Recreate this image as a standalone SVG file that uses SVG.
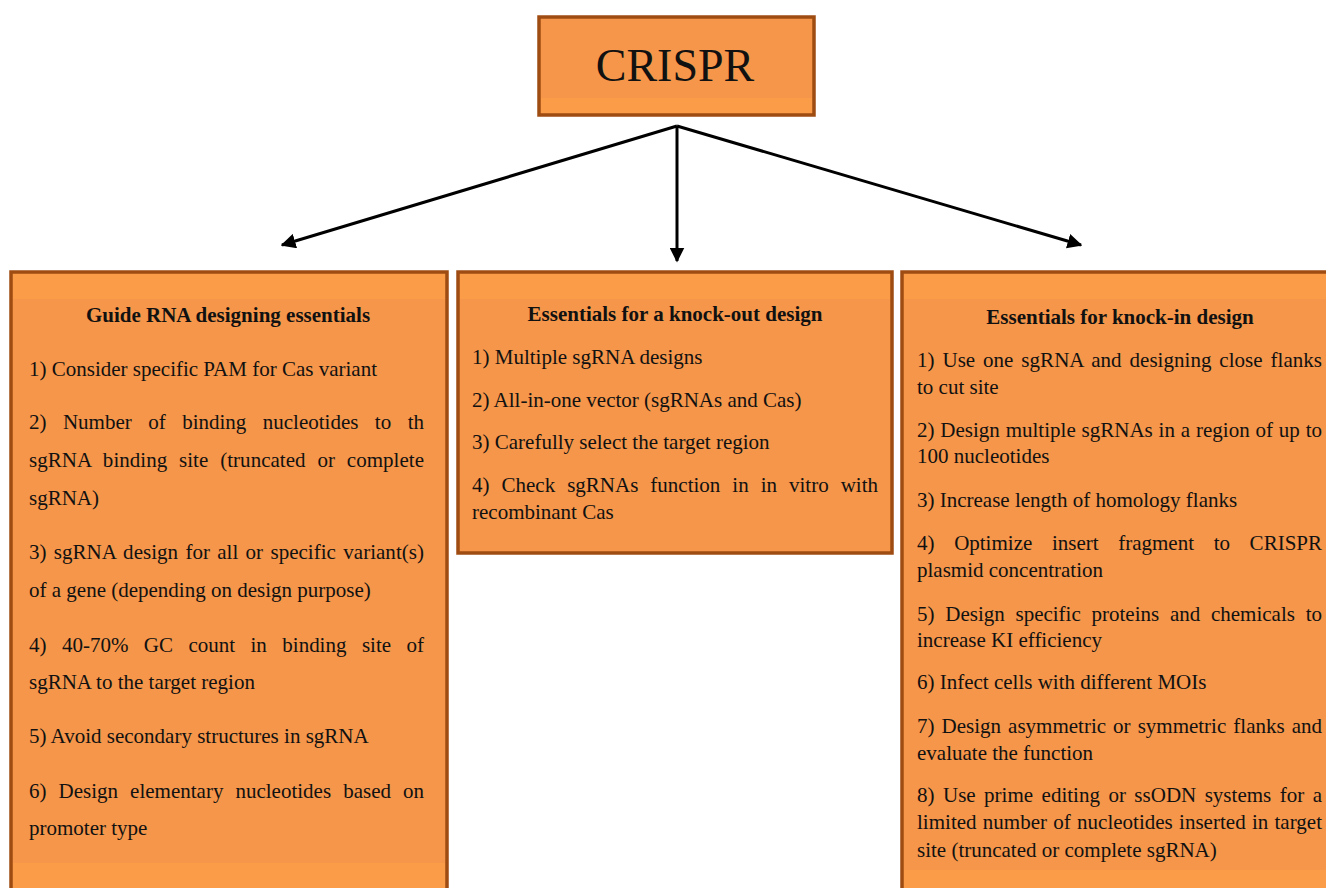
<svg xmlns="http://www.w3.org/2000/svg" width="1326" height="888" viewBox="0 0 1326 888">
<style>
.box{fill:#f5964a;stroke:#9e4c12;stroke-width:3.5}
.band{fill:#fb9c48}
.t{font-family:"Liberation Serif","Times New Roman",serif;font-size:21px;fill:#111}
.h{font-family:"Liberation Serif","Times New Roman",serif;font-size:21px;font-weight:bold;fill:#111}
.c{stroke:#000;stroke-width:3;fill:none}
</style>
<defs>
<marker id="ah" viewBox="0 0 10 10" refX="9" refY="5" markerWidth="5" markerHeight="5" orient="auto" markerUnits="strokeWidth">
<path d="M0,0 L10,5 L0,10 z" fill="#000"/>
</marker>
</defs>
<rect width="1326" height="888" fill="#fff"/>

<g id="connectors">
<line class="c" x1="677" y1="126" x2="282" y2="245" marker-end="url(#ah)"/>
<line class="c" x1="677" y1="126" x2="677" y2="261" stroke-width="2.5" marker-end="url(#ah)"/>
<line class="c" x1="677" y1="126" x2="1081" y2="245" marker-end="url(#ah)"/>
</g>

<g id="crispr">
<rect class="box" x="539" y="17" width="275" height="98"/>
<rect class="band" x="541" y="98" width="271" height="15"/>
<text x="675" y="81" text-anchor="middle" font-family="Liberation Serif, Times New Roman, serif" font-size="46" fill="#111">CRISPR</text>
</g>

<g id="guide-rna">
<rect class="box" x="11" y="272" width="436" height="640"/>
<rect class="band" x="13" y="274" width="432" height="25"/>
<rect class="band" x="13" y="863" width="432" height="25"/>
<text class="h" x="228" y="322" text-anchor="middle">Guide RNA designing essentials</text>
<text class="t" x="29" y="376">1) Consider specific PAM for Cas variant</text>
<text class="t" x="29" y="429" word-spacing="11.2" textLength="395" lengthAdjust="spacing">2) Number of binding nucleotides to th</text>
<text class="t" x="29" y="467" word-spacing="6.6" textLength="395" lengthAdjust="spacing">sgRNA binding site (truncated or complete</text>
<text class="t" x="29" y="505">sgRNA)</text>
<text class="t" x="29" y="559" word-spacing="2" textLength="395" lengthAdjust="spacing">3) sgRNA design for all or specific variant(s)</text>
<text class="t" x="29" y="597">of a gene (depending on design purpose)</text>
<text class="t" x="29" y="652" word-spacing="10.2" textLength="395" lengthAdjust="spacing">4) 40-70% GC count in binding site of</text>
<text class="t" x="29" y="689">sgRNA to the target region</text>
<text class="t" x="29" y="743">5) Avoid secondary structures in sgRNA</text>
<text class="t" x="29" y="798" word-spacing="6.8" textLength="395" lengthAdjust="spacing">6) Design elementary nucleotides based on</text>
<text class="t" x="29" y="835">promoter type</text>
</g>

<g id="knock-out">
<rect class="box" x="458" y="272" width="434" height="281"/>
<rect class="band" x="460" y="274" width="430" height="25"/>
<text class="h" x="675" y="321" text-anchor="middle">Essentials for a knock-out design</text>
<text class="t" x="472" y="364">1) Multiple sgRNA designs</text>
<text class="t" x="472" y="407">2) All-in-one vector (sgRNAs and Cas)</text>
<text class="t" x="472" y="449">3) Carefully select the target region</text>
<text class="t" x="472" y="492" word-spacing="6.8" textLength="406" lengthAdjust="spacing">4) Check sgRNAs function in in vitro with</text>
<text class="t" x="472" y="519">recombinant Cas</text>
</g>

<g id="knock-in">
<rect class="box" x="902" y="272" width="450" height="640"/>
<rect class="band" x="904" y="274" width="430" height="25"/>
<rect class="band" x="904" y="870" width="430" height="20"/>
<text class="h" x="1120" y="324" text-anchor="middle">Essentials for knock-in design</text>
<text class="t" x="917" y="367" word-spacing="2.6" textLength="405" lengthAdjust="spacing">1) Use one sgRNA and designing close flanks</text>
<text class="t" x="917" y="394">to cut site</text>
<text class="t" x="917" y="437" word-spacing="0.6" textLength="405" lengthAdjust="spacing">2) Design multiple sgRNAs in a region of up to</text>
<text class="t" x="917" y="463">100 nucleotides</text>
<text class="t" x="917" y="507">3) Increase length of homology flanks</text>
<text class="t" x="917" y="550" word-spacing="14.4" textLength="405" lengthAdjust="spacing">4) Optimize insert fragment to CRISPR</text>
<text class="t" x="917" y="577">plasmid concentration</text>
<text class="t" x="917" y="621" word-spacing="5.5" textLength="405" lengthAdjust="spacing">5) Design specific proteins and chemicals to</text>
<text class="t" x="917" y="647">increase KI efficiency</text>
<text class="t" x="917" y="689">6) Infect cells with different MOIs</text>
<text class="t" x="917" y="733" word-spacing="1.8" textLength="405" lengthAdjust="spacing">7) Design asymmetric or symmetric flanks and</text>
<text class="t" x="917" y="760">evaluate the function</text>
<text class="t" x="917" y="802" word-spacing="3.2" textLength="405" lengthAdjust="spacing">8) Use prime editing or ssODN systems for a</text>
<text class="t" x="917" y="829" word-spacing="1" textLength="405" lengthAdjust="spacing">limited number of nucleotides inserted in target</text>
<text class="t" x="917" y="857">site (truncated or complete sgRNA)</text>
</g>
</svg>
